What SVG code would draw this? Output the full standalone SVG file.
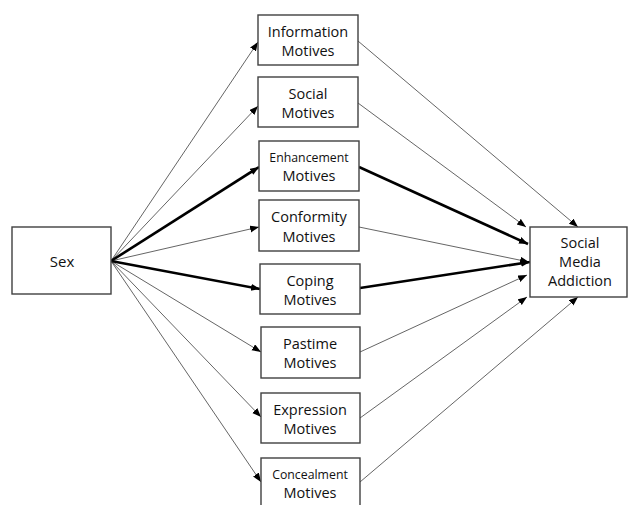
<svg xmlns="http://www.w3.org/2000/svg" width="628" height="505" viewBox="0 0 628 505">
<style>
.box{fill:#fff;stroke:#404040;stroke-width:1.4}
.t{font-family:"Open Sans","Noto Sans",sans-serif;font-size:14.5px;fill:#111;text-anchor:middle}
.s{font-size:12.3px}
.thin{stroke:#222;stroke-width:0.7;fill:none;marker-end:url(#ah)}
.thick{stroke:#000;stroke-width:2.6;fill:none;marker-end:url(#ah)}
</style>
<defs>
<marker id="ah" markerUnits="userSpaceOnUse" markerWidth="10" markerHeight="8" refX="9" refY="3.5" orient="auto">
<path d="M0,0 L9,3.5 L0,7 z" fill="#000"/>
</marker>
</defs>
<rect width="628" height="505" fill="#fff"/>
<g id="connectors">
<line class="thin" x1="111" y1="261" x2="258" y2="42"/>
<line class="thin" x1="111" y1="261" x2="258" y2="106"/>
<line class="thick" x1="111" y1="261" x2="259" y2="167"/>
<line class="thin" x1="111" y1="261" x2="259" y2="227"/>
<line class="thick" x1="111" y1="261" x2="260" y2="289"/>
<line class="thin" x1="111" y1="261" x2="261" y2="352"/>
<line class="thin" x1="111" y1="261" x2="261" y2="417"/>
<line class="thin" x1="111" y1="261" x2="261" y2="482"/>
<line class="thin" x1="358" y1="41" x2="578" y2="227"/>
<line class="thin" x1="358" y1="103" x2="526" y2="227"/>
<line class="thick" x1="359" y1="167" x2="528" y2="244"/>
<line class="thin" x1="359" y1="227" x2="529" y2="262"/>
<line class="thick" x1="360" y1="288" x2="530" y2="262"/>
<line class="thin" x1="360" y1="352" x2="527" y2="275"/>
<line class="thin" x1="360" y1="418" x2="527" y2="297"/>
<line class="thin" x1="360" y1="482" x2="578" y2="297"/>
</g>
<g id="sex">
<rect class="box" x="12" y="227" width="99" height="67"/>
<text class="t" x="62" y="267" style="font-size:15px">Sex</text>
</g>
<g id="information">
<rect class="box" x="258" y="15" width="100" height="50"/>
<text class="t" x="308" y="37">Information</text>
<text class="t" x="308" y="56">Motives</text>
</g>
<g id="social">
<rect class="box" x="258" y="77" width="100" height="50"/>
<text class="t" x="308" y="99">Social</text>
<text class="t" x="308" y="118">Motives</text>
</g>
<g id="enhancement">
<rect class="box" x="259" y="141" width="100" height="50"/>
<text class="t s" x="309" y="162">Enhancement</text>
<text class="t" x="309" y="181">Motives</text>
</g>
<g id="conformity">
<rect class="box" x="259" y="200" width="100" height="51"/>
<text class="t" x="309" y="222">Conformity</text>
<text class="t" x="309" y="242">Motives</text>
</g>
<g id="coping">
<rect class="box" x="260" y="264" width="100" height="50"/>
<text class="t" x="310" y="286">Coping</text>
<text class="t" x="310" y="305">Motives</text>
</g>
<g id="pastime">
<rect class="box" x="261" y="327" width="99" height="51"/>
<text class="t" x="310" y="349">Pastime</text>
<text class="t" x="310" y="368">Motives</text>
</g>
<g id="expression">
<rect class="box" x="261" y="393" width="99" height="50"/>
<text class="t" x="310" y="415">Expression</text>
<text class="t" x="310" y="434">Motives</text>
</g>
<g id="concealment">
<rect class="box" x="261" y="458" width="99" height="52"/>
<text class="t s" x="310" y="479">Concealment</text>
<text class="t" x="310" y="498">Motives</text>
</g>
<g id="sma">
<rect class="box" x="530" y="227" width="97" height="70"/>
<text class="t" x="580" y="248">Social</text>
<text class="t" x="580" y="267">Media</text>
<text class="t" x="580" y="286">Addiction</text>
</g>
</svg>
